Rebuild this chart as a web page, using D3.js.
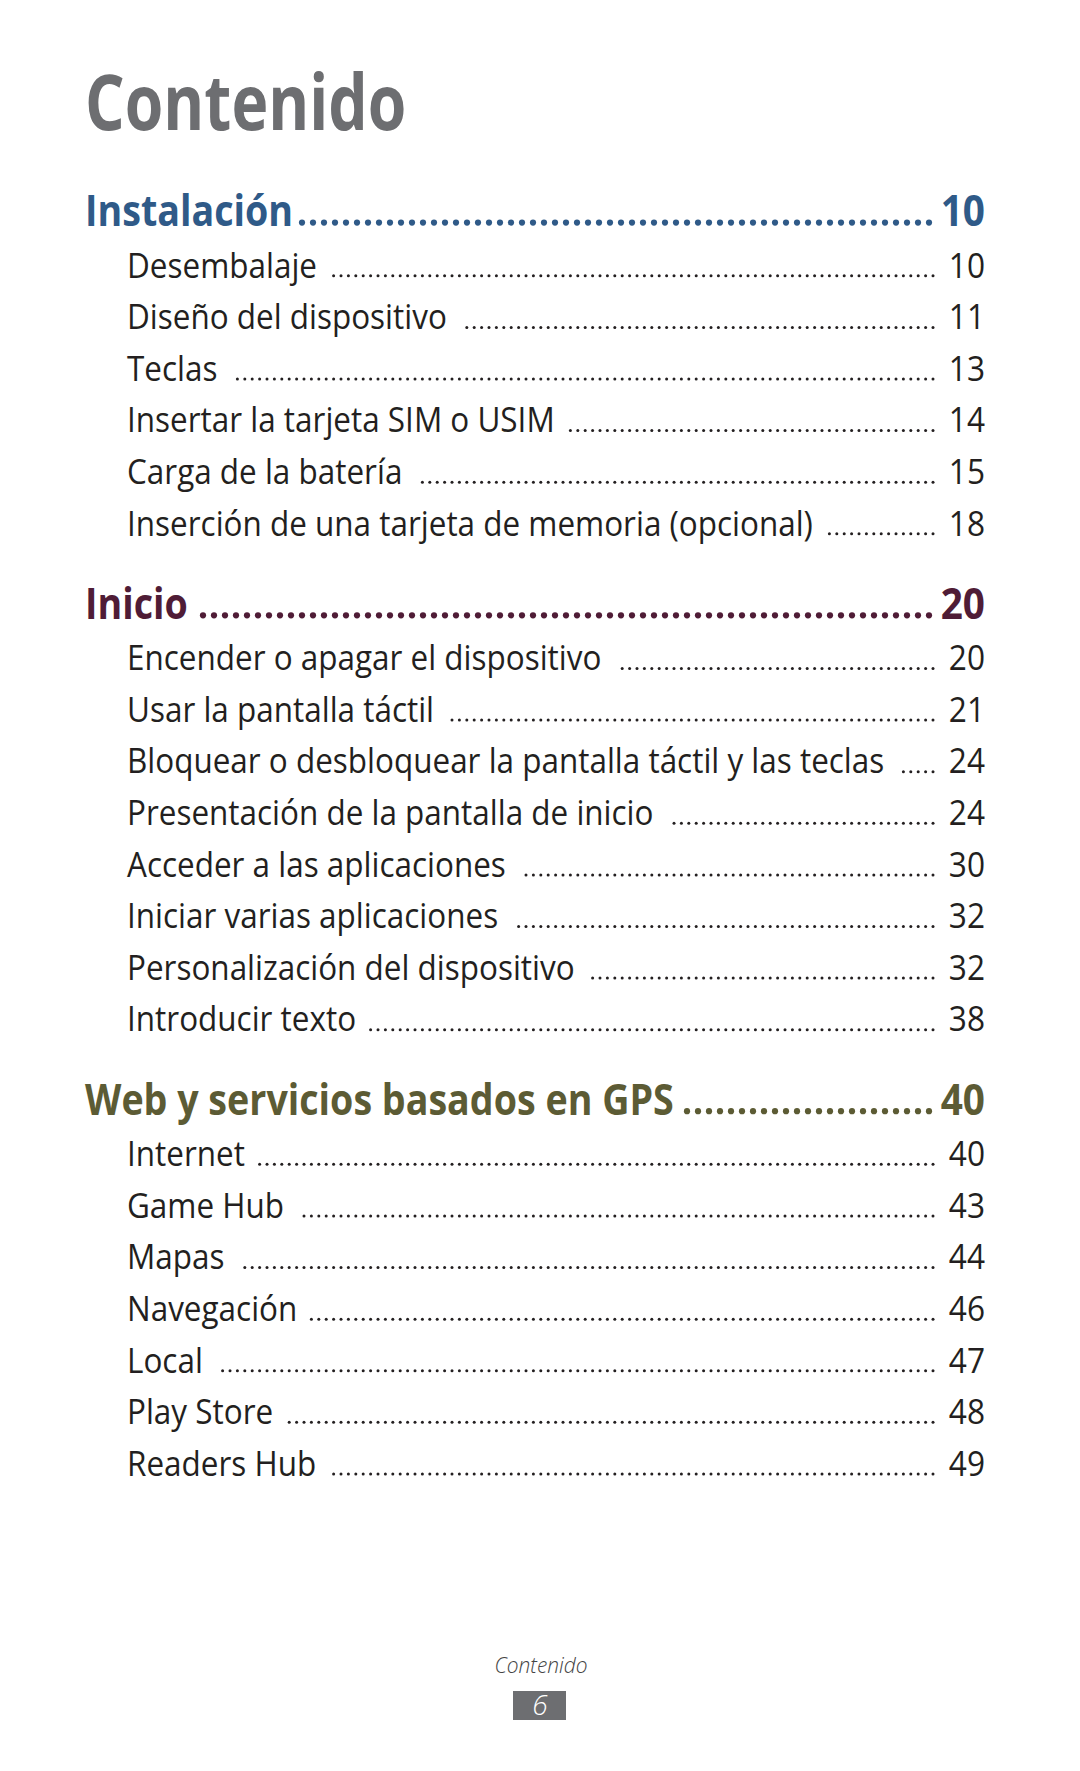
<!DOCTYPE html>
<html><head><meta charset="utf-8">
<script src="https://cdn.jsdelivr.net/npm/d3@7"></script>
<style>body{margin:0;background:#fff}svg{display:block}</style>
</head><body>
<script>
// ---- data ----
const pageTitle = "Contenido";
const footerLabel = "Contenido";
const footerPage = "6";
const sectionTitles = ["Instalación", "Inicio", "Web y servicios basados en GPS"];
const sectionPages = [10, 20, 40];
const items1 = ["Desembalaje", "Diseño del dispositivo", "Teclas", "Insertar la tarjeta SIM o USIM", "Carga de la batería", "Inserción de una tarjeta de memoria (opcional)"];
const pages1 = [10, 11, 13, 14, 15, 18];
const items2 = ["Encender o apagar el dispositivo", "Usar la pantalla táctil", "Bloquear o desbloquear la pantalla táctil y las teclas", "Presentación de la pantalla de inicio", "Acceder a las aplicaciones", "Iniciar varias aplicaciones", "Personalización del dispositivo", "Introducir texto"];
const pages2 = [20, 21, 24, 24, 30, 32, 32, 38];
const items3 = ["Internet", "Game Hub", "Mapas", "Navegación", "Local", "Play Store", "Readers Hub"];
const pages3 = [40, 43, 44, 46, 47, 48, 49];

// ---- styles ----
const W = 1080, H = 1771;
const sectionColors = ["#2f5a88", "#4f1c36", "#5c5b34"];
const textColor = "#231f20";
const font = "'Open Sans', sans-serif";
const kSub = 0.925, kHead = 0.875, kTitle = 0.81;

const svg = d3.select("body").append("svg").attr("width", W).attr("height", H);

// vertical layout
const sections = [[items1, pages1], [items2, pages2], [items3, pages3]];
const rows = [];
sections.forEach((s, si) => {
  rows.push({type: "head", text: sectionTitles[si], page: sectionPages[si], color: sectionColors[si]});
  s[0].forEach((t, i) => rows.push({type: "sub", text: t, page: s[1][i], color: textColor}));
});
let acc = 0; const steps = [];
rows.forEach((r, i) => {
  if (i > 0) acc += (r.type === "head") ? 1.61 : 1;
  steps.push(acc);
});
const y = d3.scaleLinear().domain([0, 1]).range([226, 226 + 51.6]);

const xL = {head: 85, sub: 127}, xR = 985;
const leaderEnd = {head: 929, sub: 933};
const dotSp = {head: 11, sub: 7.4}, dotR = {head: 3.1, sub: 1.5};
const gapT = {head: 4, sub: 12};

function fit(sel, k) {
  sel.each(function() {
    const L = this.getComputedTextLength();
    d3.select(this).attr("textLength", L * k).attr("lengthAdjust", "spacingAndGlyphs");
  });
}

// title
svg.append("text").attr("x", 85).attr("y", 130).attr("font-family", font).attr("font-weight", 700)
  .attr("font-size", 77).attr("fill", "#6d6e71").text(pageTitle).call(fit, kTitle);

rows.forEach((r, i) => {
  const by = y(steps[i]);
  const head = r.type === "head";
  const g = svg.append("g");
  const t = g.append("text").attr("x", xL[r.type]).attr("y", by).attr("font-family", font)
    .attr("font-weight", head ? 700 : 400).attr("font-size", head ? 43 : 34)
    .attr("fill", r.color).text(r.text).call(fit, head ? kHead : kSub);
  g.append("text").attr("x", xR).attr("y", by).attr("text-anchor", "end").attr("font-family", font)
    .attr("font-weight", head ? 700 : 400).attr("font-size", head ? 43 : 34)
    .attr("fill", r.color).text(r.page).call(fit, head ? 0.9 : 0.93);
  const tEnd = xL[r.type] + (+t.attr("textLength"));
  const dots = [];
  for (let x = leaderEnd[r.type]; x - dotR[r.type] > tEnd + gapT[r.type]; x -= dotSp[r.type]) dots.push(x);
  g.selectAll("circle").data(dots).join("circle")
    .attr("cx", d => d).attr("cy", by - dotR[r.type] - 0.3).attr("r", dotR[r.type])
    .attr("fill", head ? r.color : "#231f20");
});

// footer
svg.append("text").attr("x", 541).attr("y", 1673).attr("text-anchor", "middle").attr("font-family", font)
  .attr("font-style", "italic").attr("font-weight", 300).attr("font-size", 22).attr("fill", "#444")
  .text(footerLabel).call(fit, 0.95);
svg.append("rect").attr("x", 513).attr("y", 1691).attr("width", 53).attr("height", 29).attr("fill", "#6d6e71");
svg.append("text").attr("x", 540).attr("y", 1715).attr("text-anchor", "middle").attr("font-family", font)
  .attr("font-style", "italic").attr("font-weight", 300).attr("font-size", 28).attr("fill", "#fff").text(footerPage);
</script>
</body></html>
